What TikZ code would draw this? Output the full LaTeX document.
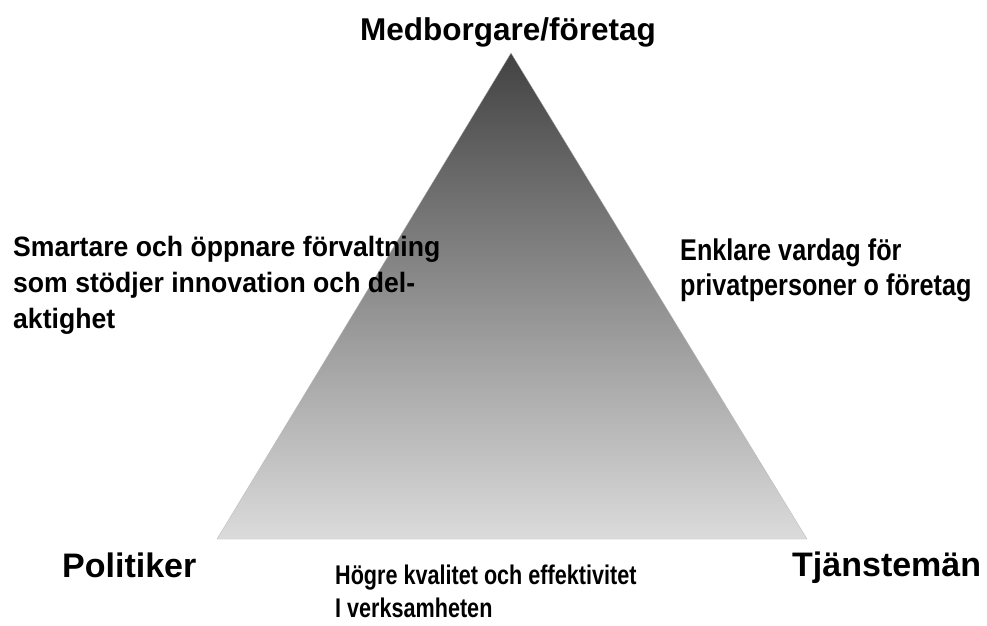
\documentclass[tikz,border=0pt]{standalone}
\usepackage{fontspec}
\setmainfont{Liberation Sans}
\newcommand{\condtext}[2]{\scalebox{#1}[1]{#2}}
\begin{document}
\begin{tikzpicture}[x=1pt,y=-1pt,
  corner/.style={font=\fontsize{34}{40}\selectfont\bfseries, inner sep=0pt, anchor=base west},
  toplabel/.style={font=\fontsize{31.5}{36}\selectfont\bfseries, inner sep=0pt, anchor=base},
  sidelabel/.style={inner sep=0pt, anchor=base west}]
\useasboundingbox[fill=white] (0,0) rectangle (987,625);
\coordinate (apex) at (511,53);
\coordinate (lc) at (217,539);
\coordinate (rc) at (807,539);
\shade[top color=black!74, middle color=black!30, bottom color=black!14, draw=black!28, line width=0.3pt]
  (apex) -- (lc) -- (rc) -- cycle;
\node[toplabel] (med) at (508,40) {Medborgare/företag};
\node[corner] (pol) at (62,577) {Politiker};
\node[corner] (tja) at (792,576) {Tjänstemän};
\node[sidelabel, font=\fontsize{28}{30}\selectfont\bfseries] (l1) at (13,256) {\condtext{0.95}{Smartare och öppnare förvaltning}};
\node[sidelabel, font=\fontsize{28}{30}\selectfont\bfseries] (l2) at (13,292) {\condtext{0.95}{som stödjer innovation och del-}};
\node[sidelabel, font=\fontsize{28}{30}\selectfont\bfseries] (l3) at (13,328) {\condtext{0.95}{aktighet}};
\node[sidelabel, font=\fontsize{30}{30}\selectfont\bfseries] (r1) at (680,260) {\condtext{0.84}{Enklare vardag för}};
\node[sidelabel, font=\fontsize{30}{30}\selectfont\bfseries] (r2) at (680,295) {\condtext{0.84}{privatpersoner o företag}};
\node[sidelabel, font=\fontsize{27}{28}\selectfont\bfseries] (b1) at (335,584) {\condtext{0.8}{Högre kvalitet och effektivitet}};
\node[sidelabel, font=\fontsize{27}{28}\selectfont\bfseries] (b2) at (335,617) {\condtext{0.8}{I verksamheten}};
\end{tikzpicture}
\end{document}
